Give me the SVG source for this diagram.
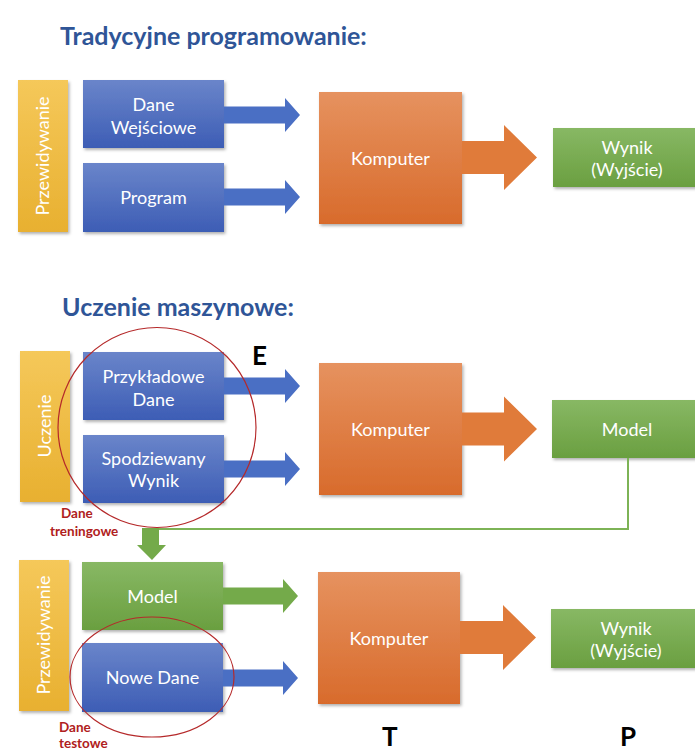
<svg xmlns="http://www.w3.org/2000/svg" width="695" height="751" viewBox="0 0 695 751">
<defs>
<linearGradient id="gBlue" x1="0" y1="0" x2="0" y2="1"><stop offset="0" stop-color="#6A85CA"/><stop offset="1" stop-color="#3D5DB5"/></linearGradient>
<linearGradient id="gOrange" x1="0" y1="0" x2="0" y2="1"><stop offset="0" stop-color="#E6925F"/><stop offset="1" stop-color="#D86B2C"/></linearGradient>
<linearGradient id="gGreen" x1="0" y1="0" x2="0" y2="1"><stop offset="0" stop-color="#88B864"/><stop offset="1" stop-color="#6A9F40"/></linearGradient>
<linearGradient id="gYellow" x1="0" y1="0" x2="0" y2="1"><stop offset="0" stop-color="#F5C85A"/><stop offset="1" stop-color="#E8B030"/></linearGradient>
<filter id="sh" x="-10%" y="-10%" width="130%" height="130%"><feDropShadow dx="1.5" dy="2" stdDeviation="1.5" flood-color="#000" flood-opacity="0.3"/></filter>
</defs>
<style>
.t{font-family:Lato,"Open Sans","Liberation Sans",sans-serif;font-size:18px;fill:#fff;text-anchor:middle}
.title{font-family:Lato,"Open Sans","Liberation Sans",sans-serif;font-size:25px;font-weight:bold;fill:#2F5597}
.big{font-family:Lato,"Open Sans","Liberation Sans",sans-serif;font-size:26px;font-weight:bold;fill:#000}
.red{font-family:Lato,"Open Sans","Liberation Sans",sans-serif;font-size:13.5px;font-weight:bold;fill:#B02020}
.blue{fill:url(#gBlue);filter:url(#sh)}
.orange{fill:url(#gOrange);filter:url(#sh)}
.green{fill:url(#gGreen);filter:url(#sh)}
.yellow{fill:url(#gYellow);filter:url(#sh)}
.ab{fill:#4A6FC4}
.ag{fill:#74AA4A}
.ao{fill:#E07B3A}
.circ{fill:none;stroke:#B5292A;stroke-width:1.2}
</style>

<text class="title" x="60" y="45">Tradycyjne programowanie:</text>
<text class="title" x="62" y="316">Uczenie maszynowe:</text>

<!-- Top section -->
<g id="bar1"><rect class="yellow" x="18" y="80" width="50" height="152"/><text class="t" transform="translate(49,156) rotate(-90)">Przewidywanie</text></g>
<g id="daneWej"><rect class="blue" x="83" y="80" width="141" height="68"/><text class="t" x="153.5" y="111">Dane</text><text class="t" x="153.5" y="134">Wejściowe</text></g>
<g id="program"><rect class="blue" x="83" y="163" width="141" height="69"/><text class="t" x="153.5" y="204">Program</text></g>
<g id="komp1"><rect class="orange" x="319" y="92" width="143" height="132"/><text class="t" x="390.5" y="165">Komputer</text></g>
<g id="wynik1"><rect class="green" x="553" y="128" width="145" height="59"/><text class="t" x="627" y="154">Wynik</text><text class="t" x="627" y="176">(Wyjście)</text></g>

<!-- Middle section -->
<g id="bar2"><rect class="yellow" x="20" y="351" width="50" height="151"/><text class="t" transform="translate(51,426) rotate(-90)">Uczenie</text></g>
<g id="przyklad"><rect class="blue" x="83" y="352" width="141" height="68"/><text class="t" x="153.5" y="383">Przykładowe</text><text class="t" x="153.5" y="406">Dane</text></g>
<g id="spodz"><rect class="blue" x="83" y="435" width="141" height="68"/><text class="t" x="153.5" y="465">Spodziewany</text><text class="t" x="153.5" y="487">Wynik</text></g>
<g id="komp2"><rect class="orange" x="319" y="363" width="143" height="132"/><text class="t" x="390.5" y="436">Komputer</text></g>
<g id="model1"><rect class="green" x="552" y="400" width="146" height="58"/><text class="t" x="627" y="436">Model</text></g>

<!-- Bottom section -->
<g id="bar3"><rect class="yellow" x="19" y="560" width="50" height="151"/><text class="t" transform="translate(50,635) rotate(-90)">Przewidywanie</text></g>
<g id="model2"><rect class="green" x="82" y="562" width="141" height="68"/><text class="t" x="152.5" y="603">Model</text></g>
<g id="nowe"><rect class="blue" x="82" y="643" width="141" height="69"/><text class="t" x="152.5" y="684">Nowe Dane</text></g>
<g id="komp3"><rect class="orange" x="318" y="572" width="142" height="132"/><text class="t" x="389" y="645">Komputer</text></g>
<g id="wynik2"><rect class="green" x="551" y="609" width="147" height="59"/><text class="t" x="626" y="635">Wynik</text><text class="t" x="626" y="657">(Wyjście)</text></g>

<g id="connectors">
<polygon class="ab" points="224,106.5 285,106.5 285,98 300,115 285,132 285,123.5 224,123.5"/>
<polygon class="ab" points="224,188.5 285,188.5 285,180 300,197 285,214 285,205.5 224,205.5"/>
<polygon class="ab" points="224,377.5 285,377.5 285,369 300,386 285,403 285,394.5 224,394.5"/>
<polygon class="ab" points="224,460.5 285,460.5 285,452 300,469 285,486 285,477.5 224,477.5"/>
<polygon class="ag" points="223,587.5 283,587.5 283,579 298,596 283,613 283,604.5 223,604.5"/>
<polygon class="ab" points="223,669.5 283,669.5 283,661 298,678 283,695 283,686.5 223,686.5"/>
<polygon class="ao" points="462,141 504,141 504,125 537,157.5 504,190 504,174 462,174"/>
<polygon class="ao" points="462,412.5 504,412.5 504,396.5 537,429 504,461.5 504,445.5 462,445.5"/>
<polygon class="ao" points="460,621 503,621 503,605 536,637.5 503,670 503,654 460,654"/>
<polyline points="628,458 628,529 158,529" fill="none" stroke="#7DB356" stroke-width="2"/>
<polygon class="ag" points="142,528 159,528 159,545 166,545 152,560 137,545 142,545"/>
</g>

<ellipse class="circ" cx="157" cy="427.5" rx="99" ry="100"/>
<ellipse class="circ" cx="152" cy="677" rx="82" ry="60"/>

<text class="red" x="61" y="518">Dane</text>
<text class="red" x="50" y="536">treningowe</text>
<text class="red" x="59" y="732">Dane</text>
<text class="red" x="59" y="748">testowe</text>

<text class="big" x="252" y="365">E</text>
<text class="big" x="382" y="746">T</text>
<text class="big" x="620" y="746">P</text>
</svg>
